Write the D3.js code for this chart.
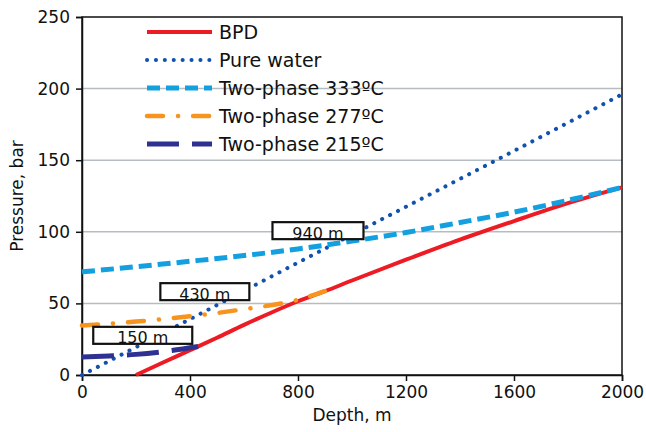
<!DOCTYPE html>
<html>
<head>
<meta charset="utf-8">
<script src="https://cdn.jsdelivr.net/npm/d3@7"></script>
<style>
  html, body { margin: 0; padding: 0; background: #fff; }
  svg text { font-family: "DejaVu Sans", sans-serif; fill: #111; }
</style>
</head>
<body>
<div id="chart"></div>
<script>
// Dati
const depthTicks = [0, 400, 800, 1200, 1600, 2000];
const pressureTicks = [0, 50, 100, 150, 200, 250];

const bpdDepth = [200, 300, 400, 500, 600, 700, 800, 900, 1000, 1200, 1400, 1600, 1800, 2000];
const bpdPressure = [0, 8.7, 17.3, 26, 35, 43.5, 51.5, 58.5, 66, 80.5, 94.5, 107.5, 120, 131];

const waterDepth = [0, 400, 800, 1200, 1600, 2000];
const waterPressure = [0, 39, 78.5, 117.5, 156.5, 196];

const tp333Depth = [0, 200, 400, 600, 800, 1000, 1200, 1400, 1600, 1800, 2000];
const tp333Pressure = [72, 75.6, 79.4, 83.4, 88, 93.5, 99.5, 106.5, 113.7, 122, 131];

const tp277Depth = [0, 200, 400, 600, 800, 900];
const tp277Pressure = [34.5, 37.3, 41, 46, 52.5, 58.5];

const tp215Depth = [0, 100, 200, 300, 430];
const tp215Pressure = [12.5, 13.3, 14.4, 16.3, 19.9];

const legendLabels = ["BPD", "Pure water", "Two-phase 333ºC", "Two-phase 277ºC", "Two-phase 215ºC"];

// Etichette delle profondità di intersezione
const noteLabels = ["150 m", "430 m", "940 m"];
const noteDepth = [225, 455, 874];
const notePressure = [27.7, 58.2, 100.8];
const noteWidths = [99, 89, 91];

const width = 646, height = 432;
const margin = { top: 17, right: 24, bottom: 57, left: 82 };

const x = d3.scaleLinear().domain([0, 2000]).range([margin.left, width - margin.right]);
const y = d3.scaleLinear().domain([0, 250]).range([height - margin.bottom, margin.top]);

const svg = d3.select("#chart").append("svg").attr("width", width).attr("height", height);

// Griglia orizzontale
svg.append("g")
  .selectAll("line")
  .data(pressureTicks.filter((d) => d > 0 && d < 250))
  .join("line")
  .attr("x1", x(0)).attr("x2", x(2000))
  .attr("y1", (d) => y(d)).attr("y2", (d) => y(d))
  .attr("stroke", "#b5bdc1").attr("stroke-width", 1.5);

// Bordo del grafico
svg.append("rect")
  .attr("x", x(0)).attr("y", y(250))
  .attr("width", x(2000) - x(0)).attr("height", y(0) - y(250))
  .attr("fill", "none").attr("stroke", "#111").attr("stroke-width", 1.5);

// Assi
const xAxis = svg.append("g")
  .attr("transform", `translate(0,${y(0)})`)
  .call(d3.axisBottom(x).tickValues(depthTicks).tickSize(6).tickPadding(5).tickFormat(d3.format("d")));
const yAxis = svg.append("g")
  .attr("transform", `translate(${x(0)},0)`)
  .call(d3.axisLeft(y).tickValues(pressureTicks).tickSize(6).tickPadding(6));
[xAxis, yAxis].forEach((ax) => {
  ax.select(".domain").attr("stroke", "#111").attr("stroke-width", 1.5);
  ax.selectAll(".tick line").attr("stroke", "#111").attr("stroke-width", 1.5);
  ax.selectAll(".tick text").attr("font-size", 17).attr("font-family", "DejaVu Sans").attr("fill", "#111");
});

svg.append("text")
  .attr("x", (x(0) + x(2000)) / 2).attr("y", 421)
  .attr("text-anchor", "middle").attr("font-size", 17)
  .text("Depth, m");
svg.append("text")
  .attr("transform", `translate(23,${(y(0) + y(250)) / 2}) rotate(-90)`)
  .attr("text-anchor", "middle").attr("font-size", 17)
  .text("Pressure, bar");

// Serie
const series = [
  { depth: bpdDepth, pressure: bpdPressure, color: "#ed1c24", width: 4, dash: null, cap: "butt" },
  { depth: waterDepth, pressure: waterPressure, color: "#0f52b0", width: 4, dash: "0.1,8.8", cap: "round" },
  { depth: tp333Depth, pressure: tp333Pressure, color: "#12a0e0", width: 5, dash: "13,6", cap: "butt" },
  { depth: tp277Depth, pressure: tp277Pressure, color: "#f7941d", width: 4.5, dash: "16,15,0.1,15", cap: "round" },
  { depth: tp215Depth, pressure: tp215Pressure, color: "#2e3192", width: 5, dash: "32,13", cap: "butt" },
];

const line = d3.line()
  .x((d) => x(d[0]))
  .y((d) => y(d[1]))
  .curve(d3.curveMonotoneX);

svg.append("g")
  .selectAll("path")
  .data(series)
  .join("path")
  .attr("d", (s) => line(d3.zip(s.depth, s.pressure)))
  .attr("fill", "none")
  .attr("stroke", (s) => s.color)
  .attr("stroke-width", (s) => s.width)
  .attr("stroke-dasharray", (s) => s.dash)
  .attr("stroke-linecap", (s) => s.cap);

// Riquadri con le profondità
const notes = svg.append("g")
  .selectAll("g")
  .data(noteLabels.map((t, i) => ({ t, d: noteDepth[i], p: notePressure[i], w: noteWidths[i] })))
  .join("g")
  .attr("transform", (n) => `translate(${x(n.d)},${y(n.p)})`);
notes.append("rect")
  .attr("x", (n) => -n.w / 2).attr("y", -8.5)
  .attr("width", (n) => n.w).attr("height", 17)
  .attr("fill", "#fff").attr("stroke", "#111").attr("stroke-width", 2.2);
notes.append("text")
  .attr("text-anchor", "middle").attr("y", 8)
  .attr("font-size", 16)
  .text((n) => n.t);

// Legenda
const legend = svg.append("g")
  .selectAll("g")
  .data(series.map((s, i) => ({ ...s, label: legendLabels[i] })))
  .join("g")
  .attr("transform", (d, i) => `translate(147,${32 + i * 28})`);
legend.append("line")
  .attr("x1", 0).attr("x2", 65)
  .attr("stroke", (d) => d.color)
  .attr("stroke-width", (d) => d.width)
  .attr("stroke-dasharray", (d) => d.dash)
  .attr("stroke-linecap", (d) => d.cap);
legend.append("text")
  .attr("x", 72).attr("y", 7)
  .attr("font-size", 19)
  .text((d) => d.label);
</script>
</body>
</html>
